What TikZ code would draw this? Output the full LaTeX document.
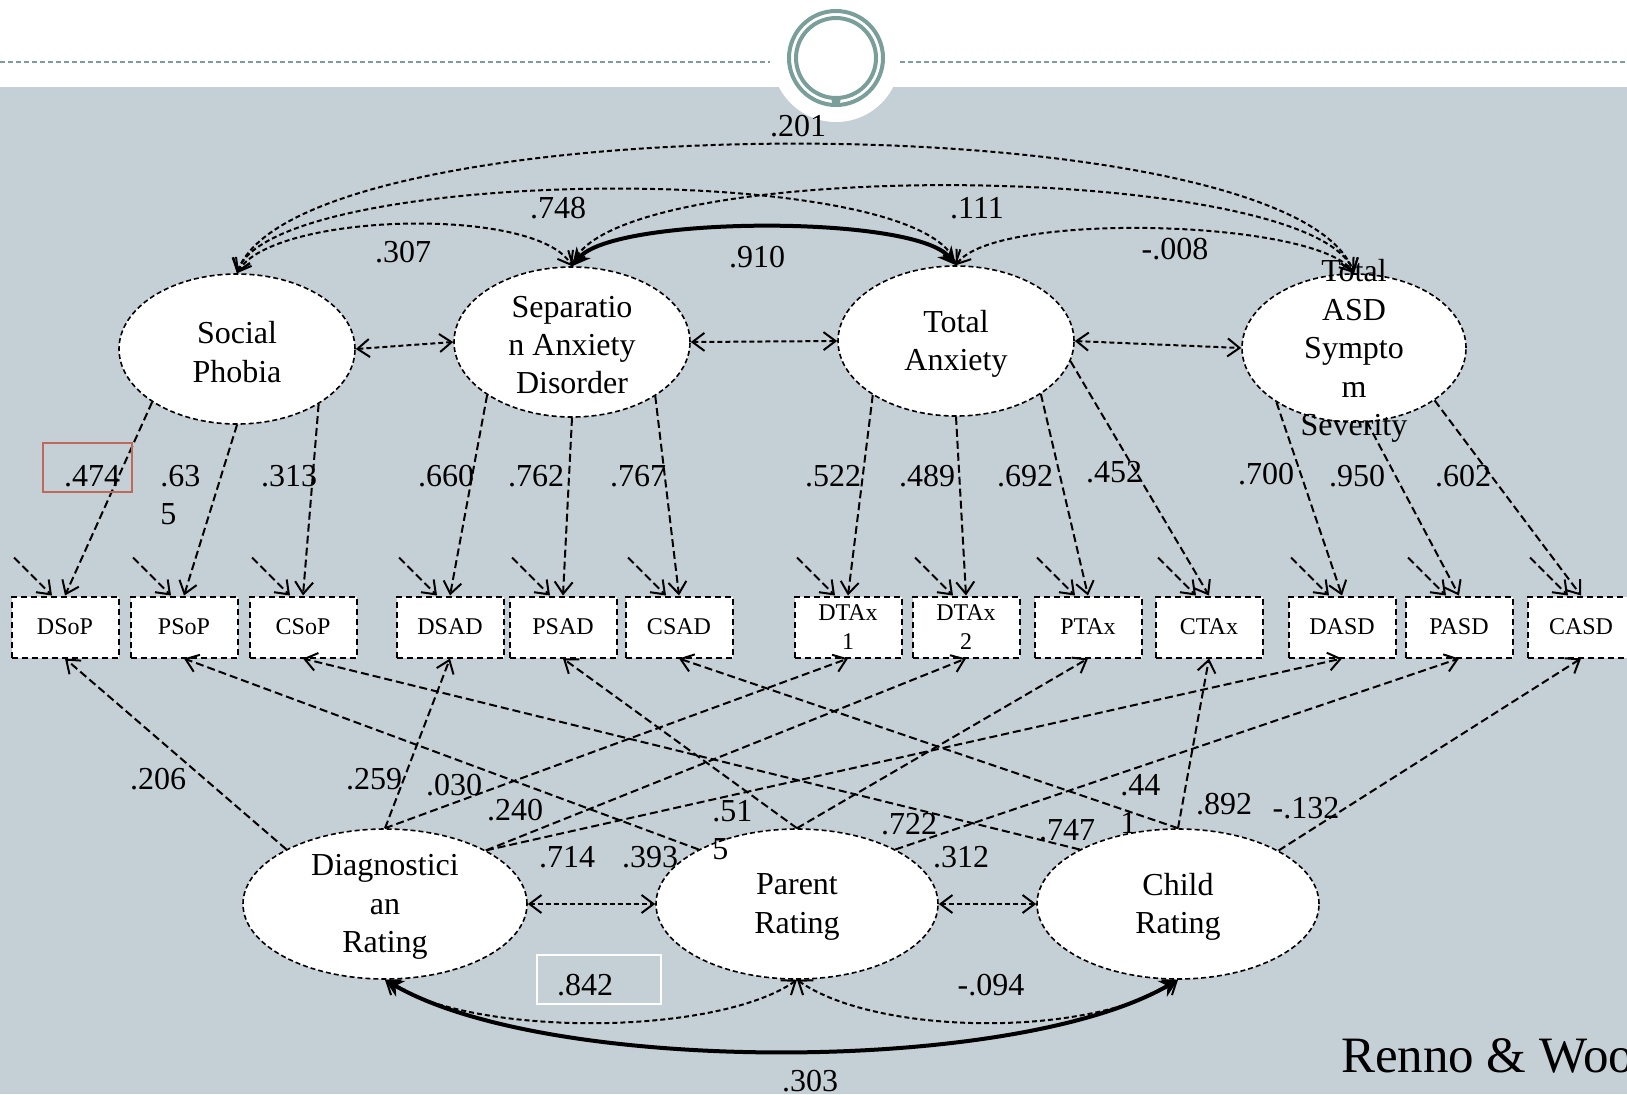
\documentclass[tikz,border=0pt]{standalone}
\usepackage{fontspec}
\setmainfont{Liberation Serif}
\usetikzlibrary{shapes.geometric,arrows.meta,calc}

\definecolor{slidebg}{RGB}{197,208,214}
\definecolor{slideteal}{RGB}{122,158,154}
\definecolor{markred}{RGB}{190,106,90}

\tikzset{
  latent/.style={ellipse, draw, fill=white, line width=0.8pt,
    dash pattern=on 2.5pt off 1.5pt, inner sep=0pt,
    minimum width=118pt, minimum height=75pt},
  ltext/.style={align=center, inner sep=0pt, yshift=-1.5pt},
  obs/.style={rectangle, draw, fill=white, line width=1pt,
    dash pattern=on 3pt off 2pt, inner sep=0pt, align=center,
    minimum width=53.5pt, minimum height=30.5pt,
    font=\fontsize{12}{14.5}\selectfont},
  load/.style={line width=1pt, dash pattern=on 4pt off 2pt,
    -{Straight Barb[length=6pt,width=9pt]}},
  cov/.style={line width=1pt, dash pattern=on 2.5pt off 1.5pt,
    {Straight Barb[length=6pt,width=9pt]}-{Straight Barb[length=6pt,width=9pt]}},
  covstrong/.style={line width=2pt,
    {Stealth[length=9pt,width=9pt]}-{Stealth[length=9pt,width=9pt]}},
  coef/.style={inner sep=0pt},
}

\begin{document}
\begin{tikzpicture}[x=0.5pt,y=0.5pt,font=\fontsize{16}{19.2}\selectfont]
  % slide background
  \clip (0,0) rectangle (1627,-1094);
  \fill[white] (0,0) rectangle (1627,-1094);
  \fill[slidebg] (0,-87) rectangle (1627,-1094);
  \fill[white] (836,-58) circle (64);
  \draw[slideteal, line width=1pt, dash pattern=on 2.5pt off 1.5pt] (0,-62) -- (770,-62);
  \draw[slideteal, line width=1pt, dash pattern=on 2.5pt off 1.5pt] (900,-62) -- (1627,-62);
  \draw[slideteal, line width=2pt] (836,-58) circle (47) (836,-58) circle (40);
  \fill[slideteal] (836,-101) circle (4.5);

  % latent factors
  \node[latent, label={[ltext]center:Social\\Phobia}] (SP) at (237,-349) {};
  \node[latent, label={[ltext]center:Separatio\\n Anxiety\\Disorder}] (SAD) at (572,-342) {};
  \node[latent, label={[ltext]center:Total\\Anxiety}] (TA) at (956,-341) {};
  \node[latent, minimum width=112pt, minimum height=74pt,
    label={[ltext]center:Total\\ASD\\Sympto\\m\\Severity}] (ASD) at (1354,-348) {};
  \node[latent, minimum width=142pt, label={[ltext]center:Diagnostici\\an\\Rating}] (DR) at (385,-904) {};
  \node[latent, minimum width=141pt, label={[ltext]center:Parent\\Rating}] (PR) at (797,-904) {};
  \node[latent, minimum width=141pt, label={[ltext]center:Child\\Rating}] (CR) at (1178,-904) {};

  % indicators
  \foreach \name/\x/\txt in {DSoP/65/DSoP, PSoP/184/PSoP, CSoP/303/CSoP,
      DSAD/450/DSAD, PSAD/563/PSAD, CSAD/679/CSAD,
      DTAx1/848/{DTAx\\1}, DTAx2/966/{DTAx\\2}, PTAx/1088/PTAx, CTAx/1209/CTAx,
      DASD/1342/DASD, PASD/1459/PASD, CASD/1581/CASD}
    \node[obs] (\name) at (\x,-627) {\txt};

  % error terms
  \foreach \name in {DSoP,PSoP,CSoP,DSAD,PSAD,CSAD,DTAx1,DTAx2,PTAx,CTAx,DASD,PASD,CASD}
    \draw[load] ($(\name.north)+(-51,38)$) -- ($(\name.north)+(-13,0)$);

  % trait loadings
  \foreach \lat/\ang/\obs in {SP/212/DSoP, SP/270/PSoP, SP/326/CSoP,
      SAD/212/DSAD, SAD/270/PSAD, SAD/327/CSAD,
      TA/213/DTAx1, TA/270/DTAx2, TA/328/PTAx, TA/350/CTAx,
      ASD/215/DASD, ASD/280/PASD, ASD/327/CASD}
    \draw[load] (\lat.\ang) -- (\obs.north);

  % method loadings
  \foreach \lat/\ang/\obs in {DR/151/DSoP, DR/90/DSAD, DR/90/DTAx1, DR/28/DTAx2, DR/28/DASD,
      PR/151/PSoP, PR/90/PSAD, PR/90/PTAx, PR/29/PASD,
      CR/151/CSoP, CR/90/CSAD, CR/90/CTAx, CR/28/CASD}
    \draw[load] (\lat.\ang) -- (\obs.south);

  % trait correlations
  \draw[cov] (SP.east) -- (SAD.west);
  \draw[cov] (SAD.east) -- (TA.west);
  \draw[cov] (TA.east) -- (ASD.west);
  \draw[cov] (SP.north) .. controls +(60:70) and +(120:70) .. (SAD.north);
  \draw[cov] (SP.north) .. controls +(72:112) and +(108:112) .. (TA.north);
  \draw[cov] (SP.north) .. controls +(70:183) and +(110:183) .. (ASD.north);
  \draw[covstrong] (SAD.north) .. controls +(50:66) and +(130:66) .. (TA.north);
  \draw[cov] (SAD.north) .. controls +(70:119) and +(110:119) .. (ASD.north);
  \draw[cov] (TA.north) .. controls +(55:66) and +(125:66) .. (ASD.north);

  % method correlations
  \draw[cov] (DR.east) -- (PR.west);
  \draw[cov] (PR.east) -- (CR.west);
  \draw[cov] (DR.south) .. controls +(-35:100) and +(-145:100) .. (PR.south);
  \draw[cov] (PR.south) .. controls +(-35:100) and +(-145:100) .. (CR.south);
  \draw[covstrong] (DR.south) .. controls +(-30:190) and +(-150:190) .. (CR.south);

  % coefficients
  \foreach \n/\x/\y/\t in {c201/798/126/.201, c748/558/208/.748, c111/977/208/.111,
      c307/403/252/.307, c910/757/257/.910, c008/1175/249/-.008,
      c474/92/476/.474, c313/289/476/.313, c660/446/476/.660, c762/536/476/.762,
      c767/638/476/.767, c522/833/476/.522, c489/927/476/.489, c692/1025/476/.692,
      c452/1114/472/.452, c700/1266/474/.700, c950/1357/476/.950, c602/1463/476/.602,
      c206/158/779/.206, c259/374/779/.259, c030/454/785/.030, c240/515/810/.240,
      c714/567/857/.714, c393/650/857/.393, c722/909/824/.722, c312/961/857/.312,
      c747/1067/830/.747, c892/1224/804/.892, c132/1306/808/-.132,
      c842/585/985/.842, c094/991/985/-.094, c303/810/1081/.303}
    \node[coef] (\n) at (\x,-\y) {\t};
  \node[coef, align=left, anchor=west] (c635) at (160,-495) {.63\\5};
  \node[coef, align=left, anchor=west] (c515) at (712,-830) {.51\\5};
  \node[coef, align=left, anchor=west] (c441) at (1120,-804) {.44\\1};

  % highlight boxes
  \draw[markred, line width=1pt] (43,-443) rectangle (132,-492);
  \draw[white, line width=1pt] (537,-955) rectangle (661,-1004);

  \node[anchor=base west, font=\fontsize{25.5}{30}\selectfont] (cite) at (1334,-1072) {Renno \& Woo};
\end{tikzpicture}
\end{document}
